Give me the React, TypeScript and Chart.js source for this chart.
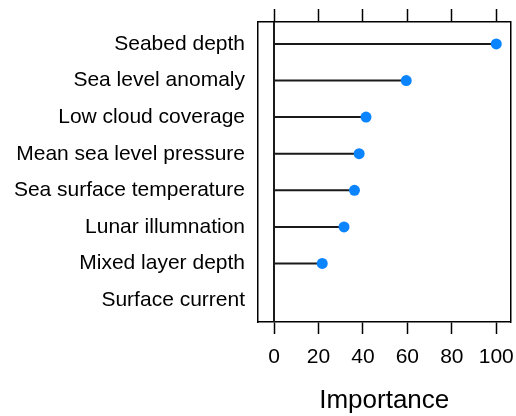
import React, { useEffect, useRef } from "react";
import { Chart, registerables } from "chart.js";

Chart.register(...registerables);

const categories = [
  "Seabed depth",
  "Sea level anomaly",
  "Low cloud coverage",
  "Mean sea level pressure",
  "Sea surface temperature",
  "Lunar illumnation",
  "Mixed layer depth",
  "Surface current",
];
const importance = [100, 59.5, 41.4, 38.3, 36.2, 31.5, 21.7, 0];
const xTicks = [0, 20, 40, 60, 80, 100];
const xMin = -7.2;
const xMax = 106.4;
const yMin = -0.6;
const yMax = 7.6;

const FONT = "'Liberation Sans', Arial, sans-serif";

export default function App() {
  const ref = useRef<HTMLCanvasElement | null>(null);
  useEffect(() => {
    if (!ref.current) return;
    const stems = categories.map((c, i) => ({
      type: "scatter" as const,
      data: [
        { x: 0, y: i },
        { x: importance[i], y: i },
      ],
      showLine: true,
      borderColor: "#1a1a1a",
      borderWidth: 2,
      pointRadius: 0,
      xAxisID: "x",
      yAxisID: "y",
    }));
    const refLine = {
      type: "scatter" as const,
      data: [
        { x: 0, y: yMin },
        { x: 0, y: yMax },
      ],
      showLine: true,
      borderColor: "#1a1a1a",
      borderWidth: 2,
      pointRadius: 0,
      xAxisID: "x",
      yAxisID: "y",
    };
    const dots = {
      type: "scatter" as const,
      data: categories
        .map((c, i) => ({ x: importance[i], y: i }))
        .filter((p) => p.x > 0),
      backgroundColor: "#0a84ff",
      borderColor: "#0a84ff",
      pointRadius: 5.5,
      borderWidth: 0,
      xAxisID: "x",
      yAxisID: "y",
    };
    const setXTicks = (axis: any) => {
      axis.ticks = xTicks.map((v) => ({ value: v }));
    };
    const noPad = (s: any) => {
      s.paddingLeft = 0;
      s.paddingRight = 0;
      s.paddingTop = 0;
      s.paddingBottom = 0;
    };
    const chart = new Chart(ref.current, {
      type: "scatter",
      data: { datasets: [dots, ...stems, refLine] as any },
      options: {
        animation: false,
        responsive: false,
        layout: { padding: { left: 0, right: 4, top: 0, bottom: 0 } },
        plugins: { legend: { display: false }, tooltip: { enabled: false } },
        scales: {
          x: {
            type: "linear",
            position: "bottom",
            min: xMin,
            max: xMax,
            afterBuildTicks: setXTicks,
            afterFit: (s: any) => {
              s.height = 94;
              noPad(s);
            },
            grid: {
              drawOnChartArea: false,
              drawTicks: true,
              tickLength: 12,
              tickWidth: 1.5,
              tickColor: "#000",
            },
            border: { display: true, color: "#000", width: 1.5 },
            ticks: {
              padding: 11,
              color: "#000",
              font: { family: FONT, size: 21 },
            },
            title: {
              display: true,
              text: "Importance",
              color: "#000",
              font: { family: FONT, size: 26 },
              padding: { top: 0, bottom: 0 },
            },
          },
          x2: {
            type: "linear",
            position: "top",
            display: true,
            min: xMin,
            max: xMax,
            afterBuildTicks: setXTicks,
            afterFit: (s: any) => {
              s.height = 22;
              noPad(s);
            },
            grid: {
              drawOnChartArea: false,
              drawTicks: true,
              tickLength: 13,
              tickWidth: 1.5,
              tickColor: "#000",
            },
            border: { display: true, color: "#000", width: 1.5 },
            ticks: { display: false },
          },
          y: {
            type: "linear",
            position: "left",
            reverse: true,
            min: yMin,
            max: yMax,
            afterBuildTicks: (axis: any) => {
              axis.ticks = categories.map((c, i) => ({ value: i }));
            },
            afterFit: (s: any) => {
              s.width = 258;
              noPad(s);
            },
            grid: { display: false, drawTicks: false },
            border: { display: true, color: "#000", width: 1.5 },
            ticks: {
              padding: 13,
              color: "#000",
              font: { family: FONT, size: 21 },
              callback: (v: any) => categories[Math.round(Number(v))] ?? "",
            },
          },
          y2: {
            type: "linear",
            position: "right",
            display: true,
            min: yMin,
            max: yMax,
            afterFit: (s: any) => {
              s.width = 0;
              noPad(s);
            },
            grid: { display: false, drawTicks: false },
            border: { display: true, color: "#000", width: 1.5 },
            ticks: { display: false },
          },
        },
      },
    });
    return () => chart.destroy();
  }, []);
  return (
    <div style={{ position: "fixed", left: 0, top: 0, width: 516, height: 416, background: "#fff" }}>
      <canvas ref={ref} width={516} height={416} style={{ width: 516, height: 416 }} />
    </div>
  );
}
